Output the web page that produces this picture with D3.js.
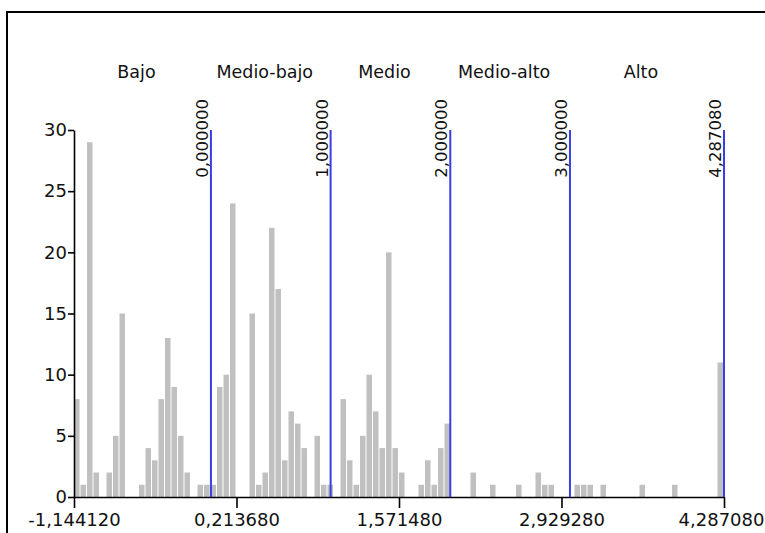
<!DOCTYPE html>
<html lang="es">
<head>
    <meta charset="UTF-8">
    <title>histograma</title>
    <script src="https://cdn.jsdelivr.net/npm/d3@7/dist/d3.min.js"></script>
    <style>
        body{margin:0;background:#fff;}
        text{font-family:"DejaVu Sans",Verdana,sans-serif;}
    </style>
</head>
<body>
    <script>
             var width=765;
             var height=533;
             // datos
             var xMin=-1.14412;
             var xMax=4.28708;
             var binWidth=0.054312;
             var counts=[8,1,29,2,0,2,5,15,0,0,
                         1,4,3,8,13,9,5,2,0,1,
                         1,1,9,10,24,0,0,15,1,2,
                         22,17,3,7,6,4,0,5,1,1,
                         0,8,3,1,5,10,7,4,20,4,
                         2,0,0,1,3,1,4,6,0,0,
                         0,2,0,0,1,0,0,0,1,0,
                         0,2,1,1,0,0,0,1,1,1,
                         0,1,0,0,0,0,0,1,0,0,
                         0,0,1,0,0,0,0,0,0,11];
             var cuts=[0,1,2,3,4.28708];
             var categories=["Bajo","Medio-bajo","Medio","Medio-alto","Alto"];
             var xTicks=[-1.14412,0.21368,1.57148,2.92928,4.28708];
             var yTicks=[0,5,10,15,20,25,30];

             var padding={left:74,right:41,top:130,bottom:36};
             var es=d3.formatLocale({decimal:",",thousands:".",grouping:[3],currency:["",""],minus:"-"});
             var fmt=es.format(".6f");

             var svg=d3.select("body").append("svg").attr("width",width).attr("height",height);

             // marco
             svg.append("rect")
                     .attr("x",7).attr("y",12)
                     .attr("width",800).attr("height",600)
                     .attr("fill","none").attr("stroke","#000").attr("stroke-width",2);

             var xScale=d3.scaleLinear().domain([xMin,xMax]).range([padding.left,width-padding.right]);
             var yScale=d3.scaleLinear().domain([0,30]).range([height-padding.bottom,padding.top]);

             //barras
             svg.selectAll("rect.bar")
                     .data(counts)
                     .enter()
                     .append("rect")
                     .attr("class","bar")
                     .attr("fill","#c0c0c0")
                     .attr("x",function(d,i){ return xScale(xMin+i*binWidth); })
                     .attr("width",xScale(xMin+binWidth)-xScale(xMin)-1)
                     .attr("y",function(d){ return yScale(d); })
                     .attr("height",function(d){ return yScale(0)-yScale(d); });

             //ejes
             var xAxis=d3.axisBottom(xScale).tickValues(xTicks).tickFormat(fmt).tickSize(11).tickSizeOuter(0).tickPadding(5);
             var yAxis=d3.axisLeft(yScale).tickValues(yTicks).tickSize(6).tickSizeOuter(0).tickPadding(1);

             var gx=svg.append("g")
                     .attr("transform","translate(0,"+yScale(0)+")")
                     .call(xAxis);
             var gy=svg.append("g")
                     .attr("transform","translate("+padding.left+",0)")
                     .call(yAxis);
             [gx,gy].forEach(function(g){
                   g.selectAll("path,line").attr("stroke","#000").attr("stroke-width",1.6);
                   g.selectAll("text").attr("fill","#111").attr("font-size","18px")
                         .style("font-family","'DejaVu Sans',Verdana,sans-serif");
             });
             // la ultima etiqueta queda pegada al borde
             gx.selectAll(".tick:last-of-type text").attr("dx",-3);

             //cortes
             svg.selectAll("line.cut")
                     .data(cuts)
                     .enter()
                     .append("line")
                     .attr("class","cut")
                     .attr("x1",function(d){ return xScale(d); })
                     .attr("x2",function(d){ return xScale(d); })
                     .attr("y1",yScale(30))
                     .attr("y2",yScale(0))
                     .attr("stroke","#3c3ce6")
                     .attr("stroke-width",2);
             svg.selectAll("text.cut")
                     .data(cuts)
                     .enter()
                     .append("text")
                     .attr("class","cut")
                     .attr("transform",function(d){ return "translate("+(xScale(d)-3)+",99) rotate(-90)"; })
                     .attr("text-anchor","end")
                     .attr("font-size","16.5px")
                     .attr("fill","#111")
                     .text(function(d){ return fmt(d); });

             //categorias: centradas entre cortes
             var bounds=[xMin].concat(cuts);
             var mids=d3.pairs(bounds).map(function(p){ return (p[0]+p[1])/2; });
             svg.selectAll("text.cat")
                     .data(categories)
                     .enter()
                     .append("text")
                     .attr("class","cat")
                     .attr("x",function(d,i){ return xScale(mids[i]); })
                     .attr("dx",-6)
                     .attr("y",78)
                     .attr("text-anchor","middle")
                     .attr("font-size","17.5px")
                     .attr("fill","#111")
                     .text(function(d){ return d; });
    </script>
</body>
</html>
